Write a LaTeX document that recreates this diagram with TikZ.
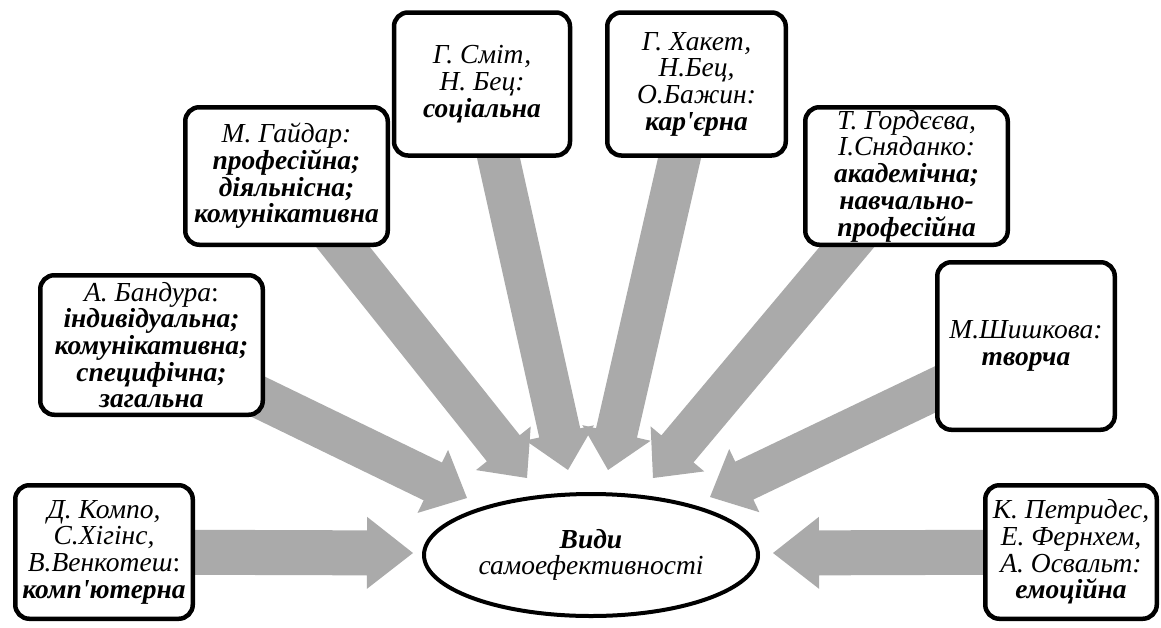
\documentclass[tikz,border=0pt]{standalone}
\usepackage{fontspec}
\setmainfont{Liberation Serif}[Ligatures=TeXOff]
\usetikzlibrary{calc,shapes.geometric}
\definecolor{arrowfill}{RGB}{170,170,170}
\newcommand\shw{21pt}
\newcommand\hw{35pt}
\newcommand\hl{38pt}
\newcommand\fatarrow[2]{%
  \coordinate (hb) at ($(#2)!\hl!(#1)$);
  \fill[arrowfill] ($(#1)!\shw!90:(#2)$) -- ($(hb)!\shw!90:(#2)$) -- ($(hb)!\hw!90:(#2)$)
    -- (#2) -- ($(hb)!\hw!-90:(#2)$) -- ($(hb)!\shw!-90:(#2)$) -- ($(#1)!\shw!-90:(#2)$) -- cycle;}
\begin{document}
\begin{tikzpicture}[x=1pt,y=-1pt,
  every node/.style={font=\fontsize{27.5}{26.7}\selectfont\itshape},
  srcbox/.style={draw,line width=4.5pt,rounded corners=14pt,fill=white,align=center,inner sep=0pt},
  centre/.style={draw,ellipse,line width=4pt,fill=white,align=center,inner sep=0pt,minimum width=334pt,minimum height=122pt}]
\useasboundingbox (0,0) rectangle (1161,627);
% source boxes (positions)
\path (104,552) coordinate (pKompo)
      (151.5,345) coordinate (pBandura)
      (286.5,176) coordinate (pGaidar)
      (482,84) coordinate (pSmit)
      (696.5,84) coordinate (pHaket)
      (906.5,176) coordinate (pGord)
      (1026,346) coordinate (pShysh)
      (1071,552) coordinate (pPetr);
% arrow tips
\coordinate (tKompo) at (413,553);
\coordinate (tPetr) at (773,553);
\coordinate (tBandura) at (467,498);
\coordinate (tGaidar) at (527,478);
\coordinate (tSmit) at (568,470);
\coordinate (tHaket) at (608,470);
\coordinate (tGord) at (653,478);
\coordinate (tShysh) at (710,497);
% arrows (behind boxes)
\fatarrow{pBandura}{tBandura}
\fatarrow{pGaidar}{tGaidar}
\fatarrow{pSmit}{tSmit}
\fatarrow{pHaket}{tHaket}
\fatarrow{pGord}{tGord}
\fatarrow{pShysh}{tShysh}
\renewcommand\hl{46pt}
\renewcommand\shw{22.5pt}
\renewcommand\hw{36pt}
\fatarrow{pKompo}{tKompo}
\fatarrow{pPetr}{tPetr}
% boxes
\node[srcbox,minimum width=177.5pt,minimum height=133.5pt] (kompo) at (pKompo)
  {Д. Компо,\\С.Хігінс,\\В.Венкотеш\textup{:}\\\textbf{комп'ютерна}};
\node[srcbox,minimum width=222.5pt,minimum height=139.5pt] (bandura) at (pBandura)
  {А. Бандура\textup{:}\\\textbf{індивідуальна;}\\\textbf{комунікативна;}\\\textbf{специфічна;}\\\textbf{загальна}};
\node[srcbox,minimum width=202.5pt,minimum height=137.5pt] (gaidar) at (pGaidar)
  {М. Гайдар:\\\textbf{професійна;}\\\textbf{діяльнісна;}\\\textbf{комунікативна}};
\node[srcbox,minimum width=176pt,minimum height=143pt] (smit) at (pSmit)
  {Г. Сміт,\\Н. Бец:\\\textbf{соціальна}};
\node[srcbox,minimum width=178.5pt,minimum height=143pt] (haket) at (pHaket)
  {Г. Хакет,\\Н.Бец,\\О.Бажин:\\\textbf{кар'єрна}};
\node[srcbox,minimum width=202.5pt,minimum height=137.5pt] (gord) at (pGord)
  {Т. Гордєєва,\\І.Сняданко:\\\textbf{академічна;}\\\textbf{навчально-}\\\textbf{професійна}};
\node[srcbox,minimum width=177.5pt,minimum height=167.5pt] (shysh) at (pShysh)
  {М.Шишкова:\\\textbf{творча}};
\node[srcbox,minimum width=171.5pt,minimum height=133.5pt] (petr) at (pPetr)
  {К. Петридес,\\Е. Фернхем,\\А. Освальт:\\\textbf{емоційна}};
% centre
\node[centre] (types) at (591,555) {\textbf{Види}\\самоефективності};
\end{tikzpicture}
\end{document}
